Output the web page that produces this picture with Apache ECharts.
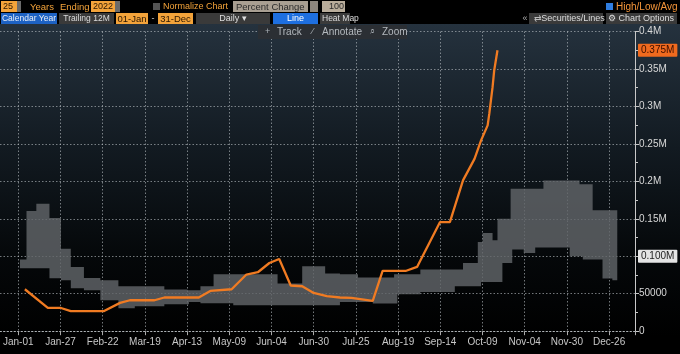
<!DOCTYPE html>
<html><head><meta charset="utf-8">
<script src="https://cdn.jsdelivr.net/npm/echarts@6/dist/echarts.min.js"></script>
<style>html,body{margin:0;padding:0;background:#000;}#c{width:680px;height:354px;}</style>
</head><body><div id="c"></div>
<script>
// ---- data ----
const xTickLabels = ['Jan-01','Jan-27','Feb-22','Mar-19','Apr-13','May-09','Jun-04','Jun-30','Jul-25','Aug-19','Sep-14','Oct-09','Nov-04','Nov-30','Dec-26'];
const yTickLabels = ['0','50000','0.1M','0.15M','0.2M','0.25M','0.3M','0.35M','0.4M'];
// 2022 line: day of year (0 = Jan-01), value
const lineDays   = [4, 18, 26, 32, 52, 62, 68, 83, 89, 110, 117, 130, 139, 146, 153, 159, 166, 173, 180, 188, 196, 203, 216, 222, 236, 243, 257, 263, 271, 278, 282, 286, 287, 289, 290, 292];
const lineValues = [56000, 31000, 31000, 26700, 26700, 37800, 41300, 41300, 45000, 45000, 53800, 56000, 75600, 78700, 91000, 96400, 61000, 60000, 51000, 46700, 45000, 44500, 40400, 80400, 80400, 85800, 145700, 145700, 201300, 230000, 254700, 274700, 290000, 325700, 348000, 375000];
// 25-year high (step starts)
const highDays   = [1, 5, 11, 19, 26, 32, 40, 50, 61, 89, 103, 111, 119, 158, 173, 187, 196, 207, 229, 245, 271, 280, 283, 289, 292, 300, 320, 342, 350];
const highValues = [95600, 160400, 170200, 151100, 110200, 85800, 71100, 68000, 60000, 55600, 54700, 60000, 76000, 63600, 86700, 77000, 76000, 71600, 76000, 82200, 91100, 119100, 131100, 121300, 150200, 190200, 201300, 196000, 161300];
// 25-year low (step starts)
const lowDays    = [1, 19, 26, 32, 40, 50, 61, 71, 89, 104, 111, 131, 196, 216, 231, 245, 266, 282, 295, 301, 308, 315, 336, 344, 356, 362];
const lowValues  = [84000, 70700, 68000, 57300, 54700, 41300, 30700, 33300, 36000, 39000, 37300, 34700, 39000, 36900, 49300, 52400, 60000, 65800, 91100, 108900, 104400, 111600, 100000, 95600, 70200, 68000];
const bandEndDay = 365;
const avgLast = 100000;

// ---- layout ----
const FONT = "'Liberation Sans Narrow','Liberation Sans',sans-serif";
const labelStep = 360 / 14;
const lastValue = lineValues[lineValues.length - 1];

function stepPoints(days, vals, end) {
  const pts = [];
  for (let i = 0; i < days.length; i++) {
    const x1 = i + 1 < days.length ? days[i + 1] : end;
    pts.push([days[i], vals[i]], [x1, vals[i]]);
  }
  return pts;
}

const ORANGE = '#f3a33a';
const GRAY = '#3a3a3a';
const els = [];
function rect(x, y, w, h, fill) { els.push({type:'rect', z:100, shape:{x, y, width:w, height:h}, style:{fill}}); }
function txt(x, y, s, fill, align, size, weight) {
  els.push({type:'text', z:101, x, y, style:{text:s, fill, font:(weight||'normal')+' '+(size||9)+'px '+FONT,
    align:align||'left', verticalAlign:'middle', textAlign:align||'left', textVerticalAlign:'middle'}});
}
// row 1
rect(1,1,16,11,ORANGE); txt(3,7,'25','#2a1600');
rect(17,1,4,11,'#6a6a6a');
txt(30,7,'Years',ORANGE,null,9.5); txt(60,7,'Ending',ORANGE,null,9.5);
rect(91,1,24,11,ORANGE); txt(103,7,'2022','#2a1600','center');
rect(115,1,5,11,'#6a6a6a');
rect(153,3,7,7,'#555');
txt(163,7,'Normalize Chart',ORANGE,null,9);
rect(233,1,75,11,'#a99f92'); txt(236,7,'Percent Change','#2b2b2b',null,9.5);
rect(310,1,8,11,'#8d867d');
rect(322,1,23,11,'#b9ad9b'); txt(344,7,'100','#2b2b2b','right');
rect(606,3,7,7,'#2f7de0');
txt(616,7,'High/Low/Avg','#f5963a',null,10);
// row 2
rect(1,13,56,11,'#1d62c4'); txt(29,19,'Calendar Year','#e8eef8','center',8.5);
rect(59,13,55,11,GRAY); txt(86.5,19,'Trailing 12M','#dddddd','center',8.5);
rect(116,13,32,11,ORANGE); txt(132,19,'01-Jan','#2a1600','center',9.5);
txt(153,19,'-','#cccccc','center');
rect(158,13,35,11,ORANGE); txt(175.5,19,'31-Dec','#2a1600','center',9.5);
rect(196,13,74,11,GRAY); txt(233,19,'Daily \u25BE','#dddddd','center');
rect(273,13,45,11,'#1e6fe0'); txt(295.5,19,'Line','#ffffff','center');
rect(320,13,30,11,GRAY); txt(322,19,'Heat Map','#dddddd',null,8.5);
txt(525,19,'\u00AB','#aaaaaa','center');
rect(529,13,74,11,GRAY); txt(538,19,'\u21C4','#bbbbbb','center'); txt(573,19,'Securities/Lines','#dddddd','center');
rect(606,13,71,11,GRAY); txt(641,19,'\u2699 Chart Options','#dddddd','center');
// row 3 tool box
rect(258,25,149,14,'#2b2f34');
txt(265,32,'+','#aab0b6'); txt(277,32,'Track','#b4b9be',null,10);
txt(312,32,'\u2044','#aab0b6'); txt(322,32,'Annotate','#b4b9be',null,10);
txt(370,32,'\u2315','#aab0b6'); txt(382,32,'Zoom','#b4b9be',null,10);

const gridLine = {show:true, lineStyle:{color:'rgba(190,196,202,0.6)', type:[1.5,2], width:1}};
const TOP = 31.5, BOTTOM = 22.8, RIGHT = 45;

const option = {
  animation: false,
  backgroundColor: {type:'linear', x:0, y:0, x2:0, y2:1, colorStops:[
    {offset:0, color:'#000'}, {offset:0.0675, color:'#000'},
    {offset:0.068, color:'#25323e'}, {offset:0.42, color:'#121a21'},
    {offset:0.72, color:'#05080a'}, {offset:0.95, color:'#000'}, {offset:1, color:'#000'}]},
  textStyle: {fontFamily: FONT},
  grid: [
    {left: 0, right: RIGHT, top: TOP, bottom: BOTTOM},
    {left: 17, right: RIGHT, top: TOP, bottom: BOTTOM}
  ],
  xAxis: [
    {gridIndex:0, type:'value', min:0, max:1, splitLine:{show:false}, axisTick:{show:false}, axisLabel:{show:false},
     axisLine:{show:true, onZero:false, lineStyle:{color:'rgba(200,205,210,0.7)', type:[1.5,2]}}},
    {gridIndex:1, type:'value', min:0, max:375.8, interval:labelStep,
     splitLine: gridLine,
     axisLine: {show:false, onZero:false},
     axisTick: {show:true, length:4, lineStyle:{color:'#aaaaaa'}},
     axisLabel: {color:'#c8c8c8', fontSize:10, fontFamily:FONT, margin:6,
       formatter: v => { const i = Math.round(v / labelStep); return (i >= 0 && i < xTickLabels.length && Math.abs(v - i*labelStep) < 0.01) ? xTickLabels[i] : ''; }}}
  ],
  yAxis: [
    {gridIndex:0, type:'value', position:'right', min:0, max:400000, interval:50000,
     splitLine: gridLine,
     axisLine: {show:true, onZero:false, lineStyle:{color:'#c8c8c8'}},
     axisTick: {show:true, length:4, lineStyle:{color:'#c8c8c8'}},
     minorTick: {show:true, splitNumber:2, length:3, lineStyle:{color:'#c8c8c8'}},
     axisLabel: {color:'#d8d8d8', fontSize:10, fontFamily:FONT, margin:4,
       formatter: v => yTickLabels[Math.round(v / 50000)] || ''}},
    {gridIndex:1, type:'value', position:'right', min:0, max:400000, interval:50000, show:false,
     axisLine:{onZero:false}, splitLine:{show:false}}
  ],
  graphic: {elements: els},
  series: [
    {
      type:'custom', name:'High/Low', clip:true, silent:true, xAxisIndex:1, yAxisIndex:1,
      data:[[0,0]],
      renderItem: (params, api) => {
        const up = stepPoints(highDays, highValues, bandEndDay).map(p => api.coord(p));
        const lo = stepPoints(lowDays, lowValues, bandEndDay).reverse().map(p => api.coord(p));
        return {type:'polygon', shape:{points: up.concat(lo)}, style:{fill:'rgba(98,101,105,0.82)'}};
      }
    },
    {
      type:'line', name:'2022', showSymbol:false, symbol:'none', xAxisIndex:1, yAxisIndex:1,
      data: lineDays.map((d, i) => [d, lineValues[i]]),
      lineStyle:{color:'#f07b22', width:2.3},
      itemStyle:{color:'#f07b22'},
      z: 5,
      markLine: {
        silent:true, symbol:['none','none'], animation:false,
        lineStyle:{color:'rgba(0,0,0,0)', width:1, type:'solid'},
        label:{show:true},
        data:[
          {yAxis:lastValue, label:{show:true, position:'end', distance:3,
            formatter:(lastValue/1e6).toFixed(3)+'M', backgroundColor:'#f06a1e', color:'#3a0e00',
            padding:[2,3,1,3], fontSize:10, fontFamily:FONT, borderRadius:1}},
          {yAxis:avgLast, label:{show:true, position:'end', distance:3,
            formatter:(avgLast/1e6).toFixed(3)+'M', backgroundColor:'#e4e4e4', color:'#222',
            padding:[2,3,1,3], fontSize:10, fontFamily:FONT, borderRadius:1}}
        ]
      }
    }
  ]
};
const chart = echarts.init(document.getElementById('c'), null, {renderer:'canvas'});
chart.setOption(option);
</script></body></html>
